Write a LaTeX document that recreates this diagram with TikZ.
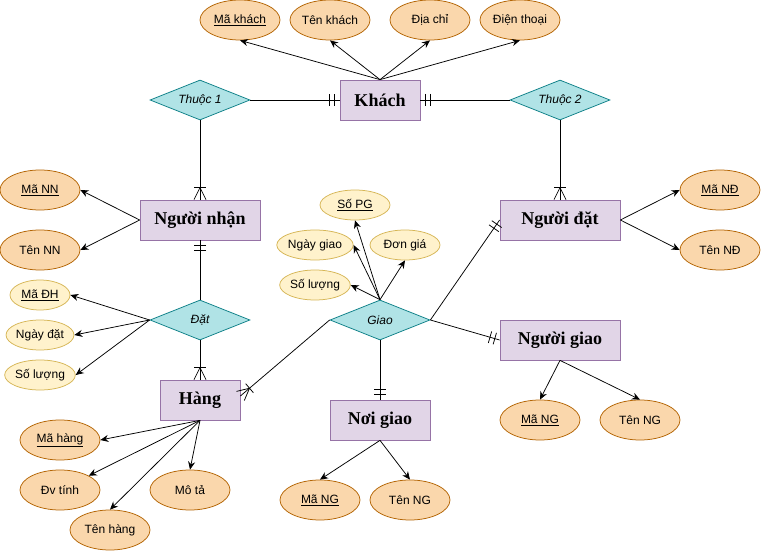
\documentclass[tikz,border=0pt]{standalone}
\usepackage{fontspec}
\setmainfont{Liberation Serif}
\setsansfont{Liberation Sans}
\usetikzlibrary{shapes.geometric,arrows.meta,decorations.markings}
\definecolor{entF}{HTML}{E1D5E7}
\definecolor{entS}{HTML}{9673A6}
\definecolor{relF}{HTML}{B0E3E6}
\definecolor{relS}{HTML}{0E8088}
\definecolor{attF}{HTML}{FAD7AC}
\definecolor{attS}{HTML}{B46504}
\definecolor{yelF}{HTML}{FFF2CC}
\definecolor{yelS}{HTML}{D6B656}
\begin{document}
\begin{tikzpicture}[x=1pt,y=-1pt,line width=0.75pt,
 ent/.style={rectangle,draw=entS,fill=entF,minimum height=40pt,inner sep=0pt,font=\fontsize{18}{20}\selectfont\bfseries},
 rel/.style={diamond,draw=relS,fill=relF,aspect=2.5,minimum width=100pt,minimum height=40pt,inner sep=0pt,font=\sffamily\itshape\fontsize{12}{14}\selectfont},
 attr/.style={ellipse,draw=attS,fill=attF,minimum width=80pt,minimum height=40pt,inner sep=0pt,font=\sffamily\fontsize{12}{14}\selectfont},
 attry/.style={ellipse,draw=yelS,fill=yelF,minimum height=30pt,inner sep=0pt,font=\sffamily\fontsize{12}{14}\selectfont},
 arr/.style={-{Stealth[length=8pt,width=7pt]},black},
 link/.style={black},
 mone/.style={postaction={decorate},decoration={markings,
   mark=at position -5pt with {\draw[black] (0,-6pt)--(0,6pt);},
   mark=at position -10pt with {\draw[black] (0,-6pt)--(0,6pt);}}},
 omany/.style={postaction={decorate},decoration={markings,
   mark=at position -12pt with {\draw[black] (0,-6pt)--(0,6pt); \draw[black] (0,0)--(12pt,-6pt) (0,0)--(12pt,6pt);}}}
]
\fill[white] (0,0) rectangle (761,551);
\useasboundingbox (0,0) rectangle (761,551);

% entities
\node[ent,minimum width=80pt] (khach) at (380,100) {Khách};
\node[ent,minimum width=120pt] (nn) at (200,220) {Người nhận};
\node[ent,minimum width=120pt] (nd) at (560,220) {Người đặt};
\node[ent,minimum width=80pt] (hang) at (200,400) {Hàng};
\node[ent,minimum width=120pt] (ng) at (560,340) {Người giao};
\node[ent,minimum width=100pt] (noi) at (380,420) {Nơi giao};

% relationships
\node[rel] (t1) at (200,100) {Thuộc 1};
\node[rel] (t2) at (560,100) {Thuộc 2};
\node[rel] (dat) at (200,320) {Đặt};
\node[rel] (giao) at (380,320) {Giao};

% attributes of Khach
\node[attr] (mk) at (240,20) {\underline{Mã khách}};
\node[attr] (tk) at (330,20) {Tên khách};
\node[attr] (dc) at (430,20) {Địa chỉ};
\node[attr] (dt) at (520,20) {Điện thoại};
% Nguoi nhan
\node[attr] (mnn) at (40,190) {\underline{Mã NN}};
\node[attr] (tnn) at (40,250) {Tên NN};
% Dat
\node[attry,minimum width=60pt] (mdh) at (40,295) {\underline{Mã ĐH}};
\node[attry,minimum width=60pt] (nda) at (40,335) {Ngày đặt};
\node[attry,minimum width=60pt] (sl1) at (40,375) {Số lượng};
% Hang
\node[attr] (mh) at (60,440) {\underline{Mã hàng}};
\node[attr] (dvt) at (60,490) {Đv tính};
\node[attr] (th) at (110,530) {Tên hàng};
\node[attr] (mt) at (190,490) {Mô tả};
% Giao
\node[attry,minimum width=70pt] (spg) at (355,205) {\underline{Số PG}};
\node[attry,minimum width=70pt] (ngg) at (315,245) {Ngày giao};
\node[attry,minimum width=70pt] (dg) at (405,245) {Đơn giá};
\node[attry,minimum width=70pt] (sl2) at (315,285) {Số lượng};
% Nguoi dat
\node[attr] (mnd) at (720,190) {\underline{Mã NĐ}};
\node[attr] (tnd) at (720,250) {Tên NĐ};
% Nguoi giao
\node[attr] (mng1) at (540,420) {\underline{Mã NG}};
\node[attr] (tng1) at (640,420) {Tên NG};
% Noi giao
\node[attr] (mng2) at (320,500) {\underline{Mã NG}};
\node[attr] (tng2) at (410,500) {Tên NG};

% relationship links
\draw[link,mone] (t1.east) -- (khach.west);
\draw[link,mone] (t2.west) -- (khach.east);
\draw[link,omany] (t1.south) -- (nn.north);
\draw[link,omany] (t2.south) -- (nd.north);
\draw[link,mone] (dat.north) -- (nn.south);
\draw[link,omany] (dat.south) -- (hang.north);
\draw[link,omany] (giao.west) -- ([yshift=4pt]hang.east);
\draw[link,mone] (giao.east) -- (nd.west);
\draw[link,mone] (giao.east) -- (ng.west);
\draw[link,mone] (giao.south) -- (noi.north);

% attribute arrows
\draw[arr] (khach.north) -- (mk.south);
\draw[arr] (khach.north) -- (tk.south);
\draw[arr] (khach.north) -- (dc.south);
\draw[arr] (khach.north) -- (dt.south);
\draw[arr] (nn.west) -- (mnn.east);
\draw[arr] (nn.west) -- (tnn.east);
\draw[arr] (dat.west) -- (mdh.east);
\draw[arr] (dat.west) -- (nda.east);
\draw[arr] (dat.west) -- (sl1.east);
\draw[arr] (hang.south) -- (mh.east);
\draw[arr] (hang.south) -- (dvt);
\draw[arr] (hang.south) -- (th.north);
\draw[arr] (hang.south) -- (mt.north);
\draw[arr] (giao.north) -- (sl2.east);
\draw[arr] (giao.north) -- (ngg.east);
\draw[arr] (giao.north) -- (spg.south);
\draw[arr] (giao.north) -- (dg.south);
\draw[arr] (nd.east) -- (mnd.west);
\draw[arr] (nd.east) -- (tnd.west);
\draw[arr] (ng.south) -- (mng1.north);
\draw[arr] (ng.south) -- (tng1.north);
\draw[arr] (noi.south) -- (mng2.north);
\draw[arr] (noi.south) -- (tng2.north);
\end{tikzpicture}
\end{document}
